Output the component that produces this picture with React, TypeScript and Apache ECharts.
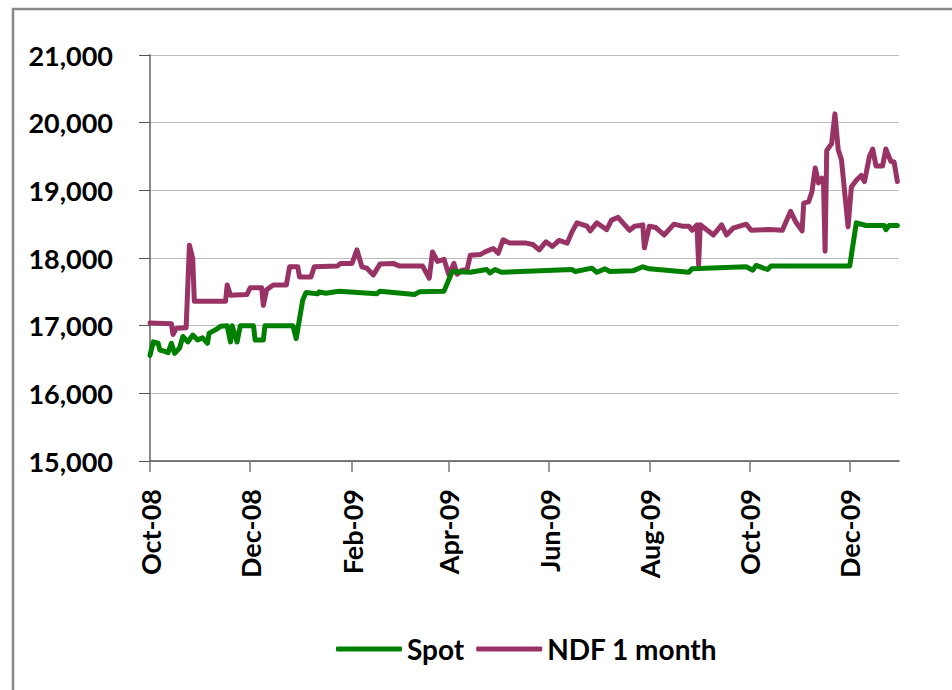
import React, { useEffect, useRef } from "react";
import * as echarts from "echarts";

const spotDates = [
  "2008-10-01", "2008-10-03", "2008-10-06", "2008-10-07", "2008-10-10", "2008-10-12", "2008-10-14", "2008-10-16",
  "2008-10-19", "2008-10-21", "2008-10-24", "2008-10-27", "2008-10-30", "2008-11-02", "2008-11-05", "2008-11-06",
  "2008-11-10", "2008-11-13", "2008-11-17", "2008-11-19", "2008-11-20", "2008-11-23", "2008-11-25", "2008-12-03",
  "2008-12-04", "2008-12-09", "2008-12-10", "2008-12-27", "2008-12-29", "2009-01-02", "2009-01-04", "2009-01-11",
  "2009-01-12", "2009-01-16", "2009-01-24", "2009-02-16", "2009-02-18", "2009-03-11", "2009-03-14", "2009-03-29",
  "2009-04-03", "2009-04-14", "2009-04-24", "2009-04-26", "2009-04-29", "2009-05-03", "2009-06-15", "2009-06-17",
  "2009-06-27", "2009-06-30", "2009-07-05", "2009-07-08", "2009-07-22", "2009-07-28", "2009-08-01", "2009-08-25",
  "2009-08-27", "2009-09-29", "2009-10-03", "2009-10-05", "2009-10-12", "2009-10-14", "2009-12-01", "2009-12-05",
  "2009-12-11", "2009-12-22", "2009-12-23", "2009-12-25", "2009-12-30",
];
const spotValues = [
  16560, 16760, 16740, 16640, 16620, 16600, 16740, 16590,
  16670, 16840, 16760, 16860, 16790, 16820, 16740, 16890,
  16940, 16990, 17000, 16760, 17000, 16760, 17000, 17000,
  16790, 16790, 17000, 17000, 16810, 17380, 17490, 17470,
  17500, 17480, 17510, 17470, 17510, 17460, 17500, 17510,
  17800, 17790, 17830, 17780, 17830, 17790, 17830, 17800,
  17850, 17790, 17840, 17800, 17810, 17870, 17840, 17790,
  17840, 17870, 17820, 17890, 17830, 17880, 17880, 18520,
  18480, 18480, 18420, 18480, 18480,
];

const ndfDates = [
  "2008-10-01", "2008-10-14", "2008-10-15", "2008-10-17", "2008-10-23", "2008-10-25", "2008-10-27", "2008-10-28",
  "2008-11-16", "2008-11-17", "2008-11-19", "2008-11-29", "2008-12-01", "2008-12-08", "2008-12-09", "2008-12-11",
  "2008-12-15", "2008-12-23", "2008-12-25", "2008-12-30", "2008-12-31", "2009-01-07", "2009-01-09", "2009-01-23",
  "2009-01-25", "2009-02-01", "2009-02-04", "2009-02-07", "2009-02-10", "2009-02-14", "2009-02-18", "2009-02-26",
  "2009-03-02", "2009-03-16", "2009-03-20", "2009-03-22", "2009-03-25", "2009-03-29", "2009-04-01", "2009-04-04",
  "2009-04-06", "2009-04-09", "2009-04-12", "2009-04-14", "2009-04-20", "2009-04-23", "2009-04-28", "2009-05-01",
  "2009-05-04", "2009-05-08", "2009-05-18", "2009-05-22", "2009-05-26", "2009-05-30", "2009-06-03", "2009-06-07",
  "2009-06-12", "2009-06-15", "2009-06-18", "2009-06-24", "2009-06-26", "2009-06-30", "2009-07-03", "2009-07-06",
  "2009-07-09", "2009-07-13", "2009-07-17", "2009-07-20", "2009-07-23", "2009-07-26", "2009-07-28", "2009-07-29",
  "2009-08-01", "2009-08-05", "2009-08-10", "2009-08-16", "2009-08-21", "2009-08-25", "2009-08-27", "2009-08-30",
  "2009-08-31", "2009-09-01", "2009-09-09", "2009-09-14", "2009-09-17", "2009-09-21", "2009-09-29", "2009-10-02",
  "2009-10-13", "2009-10-21", "2009-10-26", "2009-10-29", "2009-11-02", "2009-11-03", "2009-11-06", "2009-11-08",
  "2009-11-10", "2009-11-12", "2009-11-14", "2009-11-15", "2009-11-16", "2009-11-17", "2009-11-20", "2009-11-22",
  "2009-11-24", "2009-11-26", "2009-11-30", "2009-12-02", "2009-12-05", "2009-12-08", "2009-12-10", "2009-12-13",
  "2009-12-15", "2009-12-17", "2009-12-21", "2009-12-23", "2009-12-26", "2009-12-28", "2009-12-30",
];
const ndfValues = [
  17040, 17030, 16870, 16960, 16970, 18190, 17990, 17360,
  17360, 17600, 17450, 17460, 17560, 17560, 17300, 17530,
  17600, 17600, 17870, 17870, 17720, 17720, 17870, 17880,
  17920, 17920, 18120, 17870, 17850, 17750, 17910, 17920,
  17880, 17880, 17700, 18090, 17950, 17980, 17750, 17920,
  17760, 17820, 17830, 18040, 18050, 18090, 18140, 18070,
  18270, 18220, 18220, 18200, 18120, 18240, 18170, 18260,
  18220, 18390, 18520, 18470, 18400, 18520, 18470, 18420,
  18560, 18600, 18490, 18410, 18470, 18480, 18490, 18150,
  18470, 18450, 18340, 18500, 18470, 18470, 18410, 18490,
  17900, 18490, 18340, 18490, 18340, 18440, 18500, 18410,
  18420, 18410, 18690, 18540, 18400, 18810, 18830, 18980,
  19330, 19110, 19180, 19150, 18100, 19590, 19690, 20130,
  19600, 19450, 18460, 19050, 19150, 19220, 19130, 19500,
  19610, 19360, 19360, 19610, 19430, 19420, 19130,
];

const yTicks = [15000, 16000, 17000, 18000, 19000, 20000, 21000];
const xTickDates = [
  "2008-10-01", "2008-12-01", "2009-02-01", "2009-04-01", "2009-06-01", "2009-08-01", "2009-10-01", "2009-12-01",
];
const xMinDate = "2008-10-01";
const xMaxDate = "2009-12-31";
const monthNames = ["Jan", "Feb", "Mar", "Apr", "May", "Jun", "Jul", "Aug", "Sep", "Oct", "Nov", "Dec"];
const seriesNames = ["Spot", "NDF 1 month"];

const FONT = "Lato, 'Open Sans', sans-serif";

const toTs = (s: string) => {
  const [y, m, d] = s.split("-").map(Number);
  return Date.UTC(y, m - 1, d);
};
const fmtDate = (v: number) => {
  const d = new Date(v);
  return monthNames[d.getUTCMonth()] + "-" + String(d.getUTCFullYear() % 100).padStart(2, "0");
};

export default function App() {
  const ref = useRef<HTMLDivElement>(null);
  useEffect(() => {
    if (!ref.current) return;
    const chart = echarts.init(ref.current, null, { renderer: "svg" });
    const tickValues = xTickDates.map(toTs);
    chart.setOption({
      animation: false,
      backgroundColor: "#ffffff",
      graphic: [
        {
          type: "rect",
          shape: { x: 13, y: 9, width: 1000, height: 1000 },
          style: { fill: "none", stroke: "#888888", lineWidth: 2.5 },
          silent: true,
        },
      ],
      grid: { left: 150, right: 53, top: 55, bottom: 229, containLabel: false },
      legend: {
        data: seriesNames,
        left: 331,
        top: 628,
        icon: "roundRect",
        itemWidth: 66,
        itemHeight: 5,
        itemGap: 12,
        textStyle: { fontFamily: FONT, fontWeight: "bold", fontSize: 28, color: "#000", lineHeight: 32 },
      },
      xAxis: {
        type: "value",
        min: toTs(xMinDate),
        max: toTs(xMaxDate),
        axisLine: { show: true, onZero: false, lineStyle: { color: "#555555", width: 1.5 } },
        axisTick: { show: true, length: 11, lineStyle: { color: "#777777", width: 1.5 }, customValues: tickValues },
        splitLine: { show: false },
        axisLabel: {
          customValues: tickValues,
          rotate: 90,
          margin: 28,
          formatter: (v: number) => fmtDate(v),
          fontFamily: FONT,
          fontWeight: "bold",
          fontSize: 27,
          color: "#000",
        },
      },
      yAxis: {
        type: "value",
        min: yTicks[0],
        max: yTicks[yTicks.length - 1],
        interval: 1000,
        axisLine: { show: true, lineStyle: { color: "#888888", width: 2 } },
        axisTick: { show: true, length: 11, lineStyle: { color: "#555555", width: 1 } },
        splitLine: { show: true, lineStyle: { color: "#bbbbbb", width: 1.2 } },
        axisLabel: {
          margin: 37,
          formatter: (v: number) => v.toLocaleString("en-US"),
          fontFamily: FONT,
          fontWeight: "bold",
          fontSize: 27,
          color: "#000",
        },
      },
      series: [
        {
          name: seriesNames[0],
          type: "line",
          symbol: "none",
          data: spotDates.map((d, i) => [toTs(d), spotValues[i]]),
          lineStyle: { color: "#008000", width: 5, cap: "round", join: "round" },
          itemStyle: { color: "#008000" },
          z: 3,
        },
        {
          name: seriesNames[1],
          type: "line",
          symbol: "none",
          data: ndfDates.map((d, i) => [toTs(d), ndfValues[i]]),
          lineStyle: { color: "#993366", width: 5, cap: "round", join: "round" },
          itemStyle: { color: "#993366" },
          z: 2,
        },
      ],
    });
    return () => chart.dispose();
  }, []);
  return (
    <div
      ref={ref}
      style={{ position: "fixed", left: 0, top: 0, width: 952, height: 690, background: "#fff" }}
    />
  );
}
